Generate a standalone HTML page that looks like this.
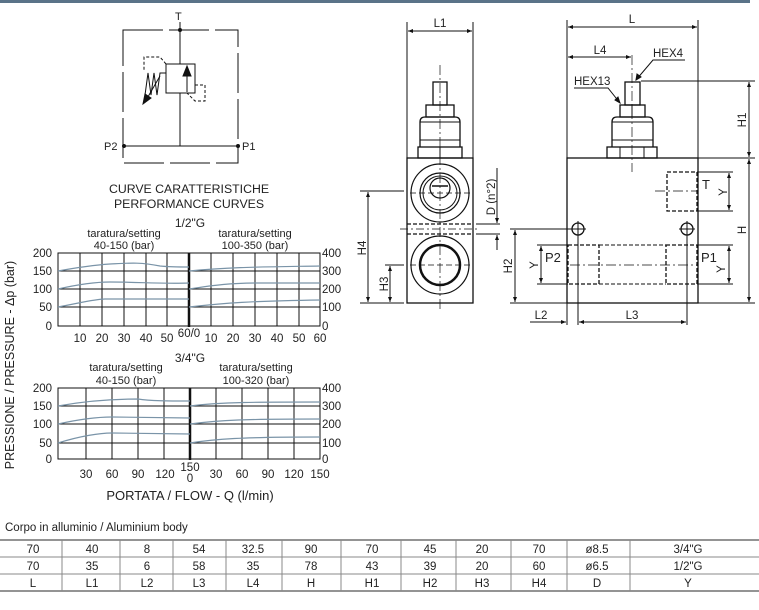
<!DOCTYPE html>
<html><head><meta charset="utf-8"><style>
html,body{margin:0;padding:0;background:#fff;width:759px;height:610px;overflow:hidden}
svg{display:block}
text{font-family:"Liberation Sans",sans-serif;fill:#222}
</style></head><body>
<svg width="759" height="610" viewBox="0 0 759 610" xmlns="http://www.w3.org/2000/svg">
<defs>
<marker id="a" viewBox="0 0 10 10" refX="10" refY="5" markerWidth="7" markerHeight="5" orient="auto-start-reverse"><path d="M0,1 L10,5 L0,9 z" fill="#111"/></marker>
</defs>
<rect x="0" y="0" width="750" height="3" fill="#5a7388"/>

<!-- schematic -->
<g stroke="#111" fill="none" stroke-width="1">
<path d="M123,30 H238 V163 H123 Z" stroke-dasharray="40,6"/>
<line x1="180" y1="22" x2="180" y2="64"/>
<line x1="180" y1="93" x2="180" y2="146"/>
<line x1="124" y1="146" x2="238" y2="146"/>
<rect x="166" y="64" width="29" height="29"/>
<line x1="187" y1="92" x2="187" y2="70"/>
<path d="M187,66 l-4,10 h8 z" fill="#111"/>
<path d="M166,64 l-6,-7 h-16 v14" stroke-dasharray="3,2"/>
<path d="M195,85 h10 v16 h-10 l-8,-8" stroke-dasharray="3,2"/>
<path d="M166,73 h-6 l-3,22 l-3,-22 l-3,22 l-3,-22 l-3,22"/>
<line x1="160" y1="76" x2="145" y2="102"/>
<path d="M143,104 l2,-10 l6,4 z" fill="#111"/>
</g>
<circle cx="180" cy="30" r="2" fill="#111"/>
<circle cx="124" cy="146" r="2" fill="#111"/>
<circle cx="238" cy="146" r="2" fill="#111"/>
<text x="175" y="20" font-size="11">T</text>
<text x="104" y="150" font-size="11">P2</text>
<text x="242" y="150" font-size="11">P1</text>

<!-- chart titles -->
<text x="189" y="193" font-size="12.3" text-anchor="middle">CURVE CARATTERISTICHE</text>
<text x="189" y="208" font-size="12.3" text-anchor="middle">PERFORMANCE CURVES</text>
<text x="190" y="227" font-size="12" text-anchor="middle">1/2"G</text>
<text x="124" y="237" font-size="11" text-anchor="middle">taratura/setting</text>
<text x="124" y="249" font-size="11" text-anchor="middle">40-150 (bar)</text>
<text x="255" y="237" font-size="11" text-anchor="middle">taratura/setting</text>
<text x="255" y="249" font-size="11" text-anchor="middle">100-350 (bar)</text>

<!-- chart 1 -->
<g stroke="#111" stroke-width="1" fill="none">
<rect x="58" y="253" width="262" height="73"/>
<line x1="58" y1="271" x2="320" y2="271"/><line x1="58" y1="289" x2="320" y2="289"/><line x1="58" y1="307" x2="320" y2="307"/>
<path d="M80,253V326M102,253V326M124,253V326M146,253V326M167,253V326M211,253V326M233,253V326M255,253V326M277,253V326M299,253V326"/>
<line x1="189" y1="253" x2="189" y2="327" stroke-width="2.5"/>
</g>
<g stroke="#7a94a8" stroke-width="1.2" fill="none">
<path d="M58,271 C80,267 95,265 110,264 C130,263 140,262 160,266 C170,267 180,267 189,267"/>
<path d="M58,289 C80,284 95,282 110,282 C140,282 160,284 189,283"/>
<path d="M58,307 C80,303 95,299 105,299 L189,299"/>
<path d="M189,271 C230,267 260,267 320,266"/>
<path d="M189,289 C215,285 230,283 260,283 L320,283"/>
<path d="M189,307 C225,303 250,301 320,300"/>
</g>
<g font-size="11.5">
<text x="52" y="257" text-anchor="end">200</text><text x="52" y="275" text-anchor="end">150</text><text x="52" y="293" text-anchor="end">100</text><text x="52" y="311" text-anchor="end">50</text><text x="52" y="330" text-anchor="end">0</text>
<text x="322" y="257">400</text><text x="322" y="275">300</text><text x="322" y="293">200</text><text x="322" y="311">100</text><text x="322" y="330">0</text>
<g text-anchor="middle"><text x="80" y="342">10</text><text x="102" y="342">20</text><text x="124" y="342">30</text><text x="146" y="342">40</text><text x="167" y="342">50</text><text x="189" y="337">60/0</text><text x="211" y="342">10</text><text x="233" y="342">20</text><text x="255" y="342">30</text><text x="277" y="342">40</text><text x="299" y="342">50</text><text x="320" y="342">60</text></g>
</g>

<!-- chart 2 -->
<text x="190" y="362" font-size="12" text-anchor="middle">3/4"G</text>
<text x="126" y="371" font-size="11" text-anchor="middle">taratura/setting</text>
<text x="126" y="384" font-size="11" text-anchor="middle">40-150 (bar)</text>
<text x="256" y="371" font-size="11" text-anchor="middle">taratura/setting</text>
<text x="256" y="384" font-size="11" text-anchor="middle">100-320 (bar)</text>
<g stroke="#111" stroke-width="1" fill="none">
<rect x="58" y="388" width="262" height="71"/>
<line x1="58" y1="406" x2="320" y2="406"/><line x1="58" y1="424" x2="320" y2="424"/><line x1="58" y1="443" x2="320" y2="443"/>
<path d="M86,388V459M112,388V459M138,388V459M164,388V459M216,388V459M242,388V459M268,388V459M294,388V459"/>
<line x1="190" y1="388" x2="190" y2="460" stroke-width="2.5"/>
</g>
<g stroke="#7a94a8" stroke-width="1.2" fill="none">
<path d="M58,406 C85,401 110,399 138,399 C150,401 170,401 190,401"/>
<path d="M58,424 C85,418 100,417 112,417 L190,418"/>
<path d="M58,443 C80,436 100,433 112,433 L190,434"/>
<path d="M190,406 C220,402 260,402 320,402"/>
<path d="M190,424 C220,420 245,419 320,419"/>
<path d="M190,443 C215,439 240,437 320,437"/>
</g>
<g font-size="11.5">
<text x="52" y="392" text-anchor="end">200</text><text x="52" y="410" text-anchor="end">150</text><text x="52" y="428" text-anchor="end">100</text><text x="52" y="447" text-anchor="end">50</text><text x="52" y="463" text-anchor="end">0</text>
<text x="322" y="392">400</text><text x="322" y="410">300</text><text x="322" y="428">200</text><text x="322" y="447">100</text><text x="322" y="463">0</text>
<g text-anchor="middle"><text x="86" y="478">30</text><text x="112" y="478">60</text><text x="138" y="478">90</text><text x="165" y="478">120</text><text x="190" y="471">150</text><text x="190" y="482">0</text><text x="216" y="478">30</text><text x="242" y="478">60</text><text x="268" y="478">90</text><text x="294" y="478">120</text><text x="320" y="478">150</text></g>
</g>
<text x="190" y="500" font-size="13" text-anchor="middle">PORTATA / FLOW - Q (l/min)</text>
<text transform="translate(14,365) rotate(-90)" font-size="12.5" text-anchor="middle">PRESSIONE / PRESSURE - Δp (bar)</text>

<!-- side view -->
<g stroke="#111" fill="none" stroke-width="1">
<rect x="407" y="158" width="66" height="145" stroke-width="1.3"/>
<rect x="418" y="147" width="44" height="11" stroke-width="1.3"/><line x1="440" y1="147" x2="440" y2="158"/>
<path d="M420,147 V122 Q420,117 425,117 H455 Q460,117 460,122 V147" stroke-width="1.3"/>
<line x1="420" y1="122" x2="460" y2="122"/><line x1="420" y1="140" x2="460" y2="140"/>
<rect x="426" y="105" width="28" height="12" stroke-width="1.3"/>
<rect x="433" y="82" width="14" height="23" stroke-width="1.3"/>
<line x1="440" y1="65" x2="440" y2="310" stroke-dasharray="10,3,2,3" stroke-width="0.7"/>
<circle cx="440" cy="193" r="29" stroke-width="1.2"/><circle cx="440" cy="193" r="20" stroke-width="1.2"/><circle cx="440" cy="193" r="17"/>
<circle cx="440" cy="188" r="10" stroke-width="1.2"/><line x1="432" y1="186" x2="448" y2="186" stroke-width="1.5"/>
<circle cx="440" cy="265" r="29" stroke-width="1.2"/><circle cx="440" cy="265" r="20" stroke-width="2.5"/>
<line x1="410" y1="193" x2="470" y2="193" stroke-dasharray="6,3" stroke-width="0.7"/>
<line x1="410" y1="265" x2="470" y2="265" stroke-dasharray="6,3" stroke-width="0.7"/>
<line x1="407" y1="224" x2="473" y2="224" stroke-dasharray="4,2" stroke-width="1.2"/>
<line x1="407" y1="234" x2="473" y2="234" stroke-dasharray="4,2" stroke-width="1.2"/>
<line x1="400" y1="229" x2="480" y2="229" stroke-dasharray="8,3,2,3" stroke-width="0.7"/>
<line x1="407" y1="158" x2="407" y2="22"/><line x1="473" y1="158" x2="473" y2="22"/>
<line x1="408" y1="31" x2="472" y2="31" marker-start="url(#a)" marker-end="url(#a)"/>
<line x1="360" y1="191" x2="404" y2="191"/><line x1="360" y1="303" x2="404" y2="303"/>
<line x1="368" y1="192" x2="368" y2="302" marker-start="url(#a)" marker-end="url(#a)"/>
<line x1="385" y1="265" x2="404" y2="265"/>
<line x1="390" y1="266" x2="390" y2="302" marker-start="url(#a)" marker-end="url(#a)"/>
<line x1="476" y1="224" x2="500" y2="224"/><line x1="476" y1="234" x2="500" y2="234"/>
<line x1="497" y1="168" x2="497" y2="223" marker-end="url(#a)"/>
<line x1="497" y1="250" x2="497" y2="235" marker-end="url(#a)"/>
</g>
<text x="440" y="27" font-size="11.5" text-anchor="middle">L1</text>
<text transform="translate(366,248) rotate(-90)" font-size="11.5" text-anchor="middle">H4</text>
<text transform="translate(388,284) rotate(-90)" font-size="11.5" text-anchor="middle">H3</text>
<text transform="translate(495,197) rotate(-90)" font-size="11.5" text-anchor="middle">D (n°2)</text>

<!-- front view -->
<g stroke="#111" fill="none" stroke-width="1">
<rect x="567" y="158" width="131" height="145" stroke-width="1.3"/>
<rect x="607" y="147" width="50" height="11" stroke-width="1.3"/><line x1="620" y1="147" x2="620" y2="158"/><line x1="644" y1="147" x2="644" y2="158"/>
<path d="M612,147 V122 Q612,117 617,117 H648 Q653,117 653,122 V147" stroke-width="1.3"/>
<line x1="612" y1="122" x2="653" y2="122"/><line x1="612" y1="140" x2="653" y2="140"/>
<rect x="620" y="105" width="25" height="12" stroke-width="1.3"/><line x1="632" y1="105" x2="632" y2="117"/>
<rect x="625" y="82" width="15" height="23" stroke-width="1.3"/>
<line x1="632" y1="55" x2="632" y2="172" stroke-dasharray="10,3,2,3" stroke-width="0.7"/>
<rect x="667" y="172" width="30" height="39" stroke-dasharray="4,2" stroke-width="1.3"/>
<rect x="568" y="245" width="31" height="39" stroke-dasharray="4,2" stroke-width="1.3"/>
<rect x="666" y="245" width="31" height="39" stroke-dasharray="4,2" stroke-width="1.3"/>
<line x1="599" y1="245" x2="666" y2="245" stroke-dasharray="4,2"/><line x1="599" y1="284" x2="666" y2="284" stroke-dasharray="4,2"/>
<line x1="570" y1="265" x2="697" y2="265" stroke-dasharray="10,3,2,3" stroke-width="0.7"/>
<line x1="655" y1="191" x2="697" y2="191" stroke-dasharray="10,3,2,3" stroke-width="0.7"/>
<circle cx="578" cy="229" r="6" stroke-width="1.3"/><circle cx="687" cy="229" r="6" stroke-width="1.3"/>
<line x1="570" y1="229" x2="586" y2="229"/><line x1="578" y1="221" x2="578" y2="237"/>
<line x1="679" y1="229" x2="695" y2="229"/><line x1="687" y1="221" x2="687" y2="237"/>
<line x1="578" y1="237" x2="578" y2="325"/><line x1="687" y1="237" x2="687" y2="325"/>
<line x1="567" y1="158" x2="567" y2="20"/><line x1="698" y1="158" x2="698" y2="20"/><line x1="567" y1="303" x2="567" y2="325"/>
<line x1="568" y1="27" x2="697" y2="27" marker-start="url(#a)" marker-end="url(#a)"/>
<line x1="568" y1="57" x2="631" y2="57" marker-start="url(#a)" marker-end="url(#a)"/>
<path d="M685,60 H653 L636,80" /><path d="M636,80 l1,-6 l4,3 z" fill="#111"/>
<path d="M574,88 H608 L620,103"/><path d="M620,103 l-5,-3 l3,-3 z" fill="#111"/>
<line x1="641" y1="81" x2="755" y2="81"/><line x1="698" y1="158" x2="755" y2="158"/><line x1="698" y1="303" x2="755" y2="303"/>
<line x1="749" y1="82" x2="749" y2="157" marker-start="url(#a)" marker-end="url(#a)"/>
<line x1="749" y1="159" x2="749" y2="302" marker-start="url(#a)" marker-end="url(#a)"/>
<line x1="697" y1="172" x2="733" y2="172"/><line x1="697" y1="211" x2="733" y2="211"/>
<line x1="729" y1="173" x2="729" y2="210" marker-start="url(#a)" marker-end="url(#a)"/>
<line x1="697" y1="245" x2="733" y2="245"/><line x1="697" y1="284" x2="733" y2="284"/>
<line x1="729" y1="246" x2="729" y2="283" marker-start="url(#a)" marker-end="url(#a)"/>
<line x1="537" y1="245" x2="568" y2="245"/><line x1="537" y1="284" x2="568" y2="284"/>
<line x1="541" y1="246" x2="541" y2="283" marker-start="url(#a)" marker-end="url(#a)"/>
<line x1="510" y1="229" x2="570" y2="229"/><line x1="510" y1="303" x2="567" y2="303"/>
<line x1="515" y1="230" x2="515" y2="302" marker-start="url(#a)" marker-end="url(#a)"/>
<line x1="530" y1="322" x2="566" y2="322" marker-end="url(#a)"/>
<line x1="579" y1="322" x2="686" y2="322" marker-start="url(#a)" marker-end="url(#a)"/>
</g>
<text x="632" y="23" font-size="11.5" text-anchor="middle">L</text>
<text x="600" y="54" font-size="11.5" text-anchor="middle">L4</text>
<text x="653" y="57" font-size="11.5">HEX4</text>
<text x="574" y="85" font-size="11.5">HEX13</text>
<text transform="translate(746,120) rotate(-90)" font-size="11.5" text-anchor="middle">H1</text>
<text transform="translate(746,230) rotate(-90)" font-size="11.5" text-anchor="middle">H</text>
<text x="702" y="189" font-size="13">T</text>
<text transform="translate(727,192) rotate(-90)" font-size="11.5" text-anchor="middle">Y</text>
<text x="545" y="262" font-size="13">P2</text>
<text transform="translate(538,265) rotate(-90)" font-size="11.5" text-anchor="middle">Y</text>
<text x="701" y="262" font-size="13">P1</text>
<text transform="translate(725,269) rotate(-90)" font-size="11.5" text-anchor="middle">Y</text>
<text transform="translate(512,266) rotate(-90)" font-size="11.5" text-anchor="middle">H2</text>
<text x="541" y="319" font-size="11.5" text-anchor="middle">L2</text>
<text x="632" y="319" font-size="11.5" text-anchor="middle">L3</text>

<!-- table -->
<text x="5" y="531" font-size="11.5">Corpo in alluminio / Aluminium body</text>
<g stroke="#888" stroke-width="1">
<line x1="0" y1="540" x2="759" y2="540" stroke="#555" stroke-width="1.3"/>
<line x1="0" y1="557" x2="759" y2="557"/><line x1="0" y1="574" x2="759" y2="574"/>
<line x1="0" y1="591" x2="759" y2="591" stroke="#555" stroke-width="1.3"/>
<path d="M62,540V591M120,540V591M173,540V591M226,540V591M282,540V591M341,540V591M401,540V591M456,540V591M511,540V591M567,540V591M630,540V591"/>
</g>
<g font-size="11.5" text-anchor="middle">
<text x="33" y="553">70</text><text x="92" y="553">40</text><text x="147" y="553">8</text><text x="199" y="553">54</text><text x="253" y="553">32.5</text><text x="311" y="553">90</text><text x="372" y="553">70</text><text x="430" y="553">45</text><text x="482" y="553">20</text><text x="539" y="553">70</text><text x="597" y="553">ø8.5</text><text x="688" y="553">3/4"G</text>
<text x="33" y="570">70</text><text x="92" y="570">35</text><text x="147" y="570">6</text><text x="199" y="570">58</text><text x="253" y="570">35</text><text x="311" y="570">78</text><text x="372" y="570">43</text><text x="430" y="570">39</text><text x="482" y="570">20</text><text x="539" y="570">60</text><text x="597" y="570">ø6.5</text><text x="688" y="570">1/2"G</text>
<text x="33" y="587">L</text><text x="92" y="587">L1</text><text x="147" y="587">L2</text><text x="199" y="587">L3</text><text x="253" y="587">L4</text><text x="311" y="587">H</text><text x="372" y="587">H1</text><text x="430" y="587">H2</text><text x="482" y="587">H3</text><text x="539" y="587">H4</text><text x="597" y="587">D</text><text x="688" y="587">Y</text>
</g>
</svg>
</body></html>
